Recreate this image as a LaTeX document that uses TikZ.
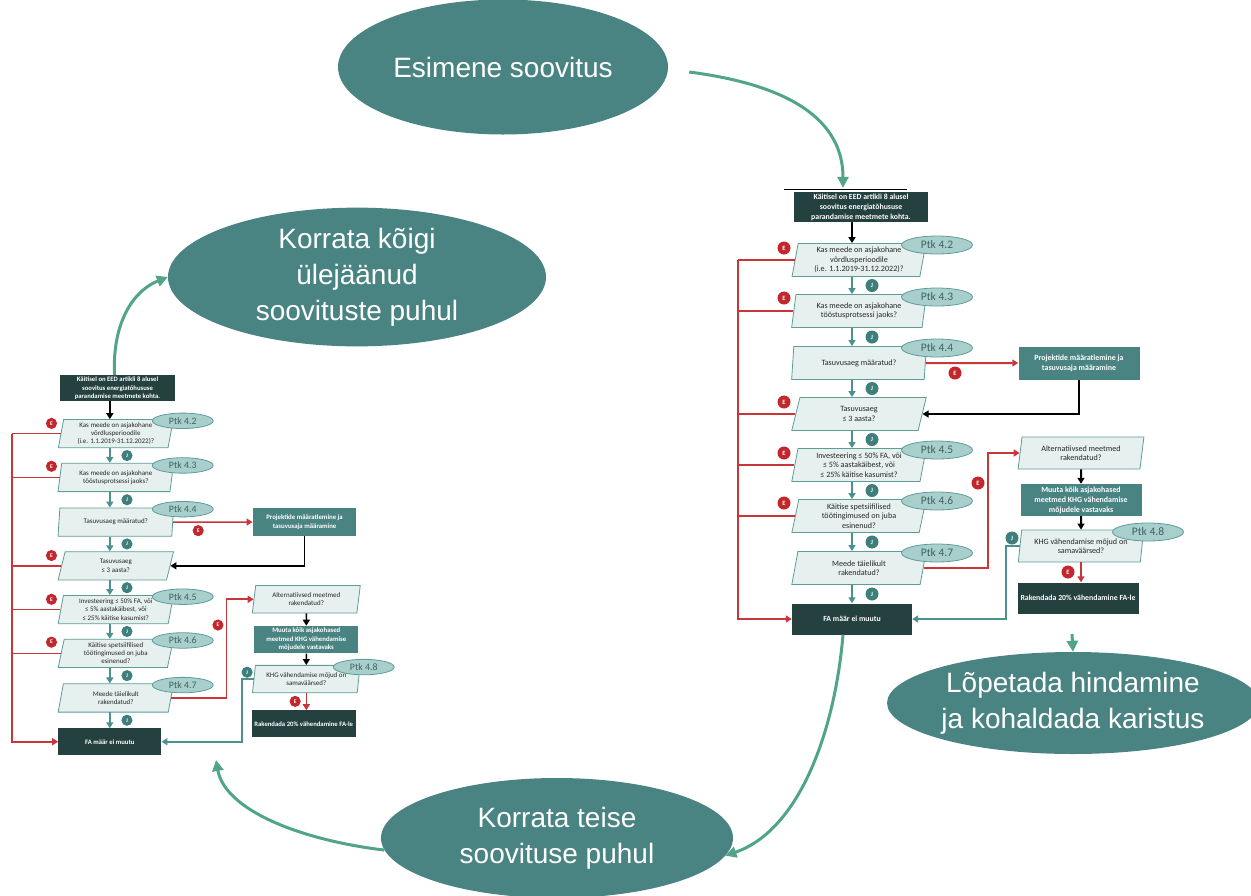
\documentclass[tikz,border=0pt]{standalone}
\usepackage{fontspec}
\setmainfont{Carlito}
\newfontfamily\arialfont{Liberation Sans}
\usetikzlibrary{arrows.meta,shapes.geometric}

\definecolor{darkbox}{HTML}{24403F}
\definecolor{midteal}{HTML}{4A8482}
\definecolor{qfill}{HTML}{E6F0EF}
\definecolor{qdraw}{HTML}{5E9C98}
\definecolor{ptkfill}{HTML}{A9CFCD}
\definecolor{ptktext}{HTML}{3A6564}
\definecolor{jteal}{HTML}{3E7F7C}
\definecolor{ered}{HTML}{C1272D}
\definecolor{redline}{HTML}{C9363A}
\definecolor{yesteal}{HTML}{4D918E}
\definecolor{curvegreen}{HTML}{4FA585}

\tikzset{
  flow line/.initial=2,
  darkbox/.style={fill=darkbox, text=white, font=\bfseries\fontsize{7.8}{10}\selectfont,
    align=center, inner sep=1},
  tealbox/.style={fill=midteal, text=white, font=\bfseries\fontsize{7.9}{10}\selectfont,
    align=center, inner sep=1, minimum width=121, minimum height=32},
  question/.style={trapezium, trapezium left angle=80, trapezium right angle=100,
    trapezium stretches=true, draw=qdraw, fill=qfill, line width=0.8, text=black!85,
    font=\fontsize{8.1}{9.4}\selectfont, align=center, inner sep=0,
    minimum width=135, minimum height=33},
  ptk/.style={ellipse, draw=qdraw, fill=ptkfill, line width=0.8, text=ptktext,
    font=\fontsize{11.5}{12}\selectfont, minimum width=71, minimum height=18, inner sep=0},
  emark/.style={circle, fill=ered, text=white, font=\bfseries\fontsize{6.5}{7}\selectfont,
    minimum size=13, inner sep=0},
  jmark/.style={circle, fill=jteal, text=white, font=\bfseries\fontsize{6.5}{7}\selectfont,
    minimum size=13, inner sep=0},
  flowtip/.style={-{Triangle[length=6,width=7]}},
  noline/.style={draw=redline, line width=\pgfkeysvalueof{/tikz/flow line}},
  yesline/.style={draw=yesteal, line width=\pgfkeysvalueof{/tikz/flow line}},
  blackline/.style={draw=black, line width=\pgfkeysvalueof{/tikz/flow line}},
  bigoval/.style={ellipse, fill=midteal, text=white, align=center, inner sep=0,
    font=\arialfont\fontsize{28}{36}\selectfont},
  greencurve/.style={draw=curvegreen, line width=3, -{Triangle[length=11,width=11]}},
  flow/.pic={
    \coordinate (-bus) at (738,0);
    \coordinate (-ebend) at (988,0);
    \coordinate (-jbend) at (1006,0);

    \node[darkbox, minimum width=134, minimum height=30] (-top) at (861,207)
      {Käitisel on EED artikli 8 alusel\\soovitus energiatõhususe\\parandamise meetmete kohta.};
    \node[question] (-q1) at (859,260) {Kas meede on asjakohane\\võrdlusperioodile\\(i.e. 1.1.2019-31.12.2022)?};
    \node[question] (-q2) at (859,311) {Kas meede on asjakohane\\tööstusprotsessi jaoks?};
    \node[question] (-q3) at (859,363) {Tasuvusaeg määratud?};
    \node[question] (-q4) at (859,414) {Tasuvusaeg\\≤ 3 aasta?};
    \node[question] (-q5) at (859,465) {Investeering ≤ 50\%  FA, või\\≤ 5\% aastakäibest, või\\≤ 25\% käitise kasumist?};
    \node[question] (-q6) at (859,516) {Käitise spetsiifilised\\töötingimused on juba\\esinenud?};
    \node[question] (-q7) at (859,568) {Meede täielikult\\rakendatud?};
    \node[darkbox, minimum width=120, minimum height=31] (-fa) at (852,619) {FA määr ei muutu};

    \node[tealbox, minimum height=33] (-proj) at (1079,363) {Projektide määratlemine ja\\tasuvusaja määramine};
    \node[question, minimum width=126, minimum height=32] (-alt) at (1081,453) {Alternatiivsed meetmed\\rakendatud?};
    \node[tealbox] (-muuta) at (1081,500) {Muuta kõik asjakohased\\meetmed KHG vähendamise\\mõjudele vastavaks};
    \node[question, minimum width=126, minimum height=32] (-khg) at (1081,546) {KHG vähendamise mõjud on\\samaväärsed?};
    \node[darkbox, minimum width=121, minimum height=31] (-rak) at (1078,598) {Rakendada 20\% vähendamine FA-le};

    % jah: straight down the main column
    \draw[blackline, flowtip] (-top.south -| -fa.north) -- (-q1.north -| -fa.north);
    \foreach \a/\b in {q1/q2, q2/q3, q3/q4, q4/q5, q5/q6, q6/q7, q7/fa}
      \draw[yesline, flowtip] (-\a.south -| -fa.north) -- (-\b.north -| -fa.north);
    \foreach \y in {285.5, 337, 388.5, 439.5, 490.5, 542, 594}
      \node[jmark] at (872,\y) {J};

    % ei: back to the bus on the left
    \foreach \q in {q1, q2, q4, q5, q6}
      \draw[noline] (-\q.west) -- (-\q.west -| -bus);
    \draw[noline, flowtip] (-q1.west -| -bus) |- (-fa.west);
    \foreach \y in {248, 298, 402, 453, 503}
      \node[emark] at (784,\y) {E};

    \draw[noline, flowtip] (-q3.east) -- (-proj.west);
    \node[emark] at (955,373) {E};
    \draw[blackline, flowtip] (-proj.south) |- (-q4.east);

    \draw[noline, flowtip] (-q7.east) -- (-q7.east -| -ebend) |- (-alt.west);
    \node[emark] at (978,483) {E};
    \draw[blackline, flowtip] (-alt.south) -- (-muuta.north);
    \draw[blackline, flowtip] (-muuta.south) -- (-khg.north);
    \draw[noline, flowtip] (-khg.south) -- (-khg.south |- -rak.north);
    \node[emark] at (1068,572) {E};
    \draw[yesline, flowtip] (-khg.west) -- (-khg.west -| -jbend) |- (-fa.east);
    \node[jmark] at (1012,538) {J};

    \node[ptk] at (937,245) {Ptk 4.2};
    \node[ptk] at (937,297) {Ptk 4.3};
    \node[ptk] at (937,348) {Ptk 4.4};
    \node[ptk] at (937,450) {Ptk 4.5};
    \node[ptk] at (937,501) {Ptk 4.6};
    \node[ptk] at (937,553) {Ptk 4.7};
    \node[ptk] at (1148,532) {Ptk 4.8};
  }
}

\begin{document}
\begin{tikzpicture}[x=1pt, y=-1pt]
  \useasboundingbox (0,0) rectangle (1251,895);

  % the big ovals
  \node[bigoval, minimum width=330, minimum height=135] (esim) at (503,67) {Esimene soovitus};
  \node[bigoval, minimum width=378, minimum height=118] (koigi) at (357,277)
    {Korrata kõigi\\ülejäänud\\soovituste puhul};
  \node[bigoval, minimum width=352, minimum height=120] (teise) at (557,838)
    {Korrata teise\\soovituse puhul};
  \node[bigoval, minimum width=366, minimum height=102] (lop) at (1073,703)
    {Lõpetada hindamine\\ja kohaldada karistus};

  % the two flowcharts
  \pic (R) at (0,0) {flow};
  \pic[scale=0.858, transform shape, flow line=1.6] (L) at (-621.2,210.6) {flow};
  \draw[black, line width=0.6] (784,189) -- (907,189);

  % green arrows between the rounds
  \draw[greencurve] ([xshift=21,yshift=-5]esim.east)
    .. controls (790,85) and (843,120) .. ([xshift=-18,yshift=4]R-top.north);
  \draw[greencurve] ([xshift=-9]R-fa.south)
    .. controls (835,730) and (800,830) .. (teise.-6);
  \coordinate (backtip) at (216,760);
  \draw[greencurve] (teise.184) .. controls (300,840) and (225,810) .. (backtip);
  \draw[greencurve] ([xshift=-3]L-top.north) .. controls (112,320) and (135,290) .. (koigi.west);
  \coordinate (lopstart) at (1072,634);
  \draw[greencurve] (lopstart) -- (lop.north);
\end{tikzpicture}
\end{document}
